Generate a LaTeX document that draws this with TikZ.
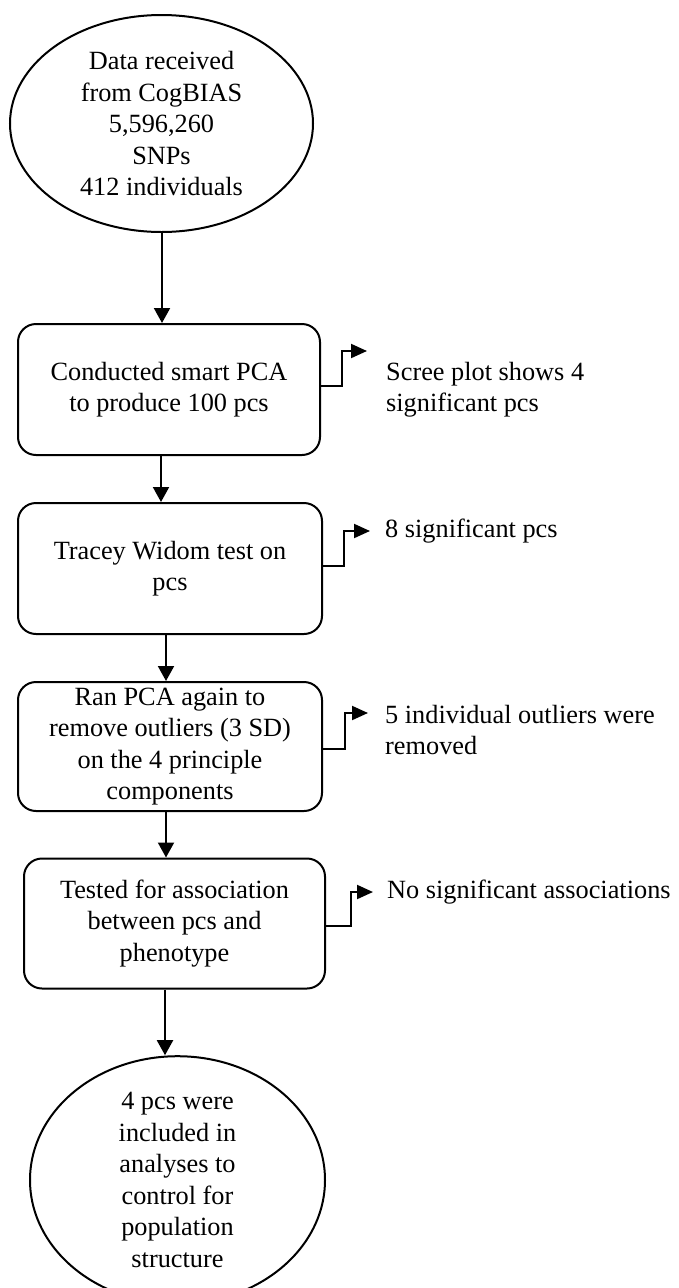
\documentclass[tikz,border=0pt]{standalone}
\usepackage{fontspec}
\setmainfont{Liberation Serif}
\usetikzlibrary{arrows.meta,shapes.geometric}
\begin{document}
\begin{tikzpicture}[x=1pt,y=1pt,
  every node/.style={font=\fontsize{26.3}{31.5}\selectfont},
  ovalnode/.style={draw,line width=2pt,ellipse,inner sep=0pt,align=center},
  stepbox/.style={draw,line width=2pt,rounded corners=18pt,inner sep=0pt,align=center},
  sidetext/.style={anchor=north west,inner sep=0pt,align=left},
  mainarrow/.style={line width=2pt,-{Triangle[length=15pt,width=16pt]}},
  sidearrow/.style={line width=2pt,-{Triangle[length=16pt,width=14pt]}}]
\useasboundingbox (0,0) rectangle (678,-1288);

\node[ovalnode,minimum width=303pt,minimum height=217pt] (e1) at (161.5,-123.5)
  {Data received\\from CogBIAS\\5,596,260\\SNPs\\412 individuals};
\node[stepbox,minimum width=302pt,minimum height=131pt] (b1) at (169,-389.5)
  {Conducted smart PCA\\to produce 100 pcs};
\node[stepbox,minimum width=304pt,minimum height=131pt] (b2) at (170,-568.5)
  {Tracey Widom test on\\pcs};
\node[stepbox,minimum width=304pt,minimum height=129pt] (b3) at (170,-746.5)
  {Ran PCA again to\\remove outliers (3 SD)\\on the 4 principle\\components};
\node[stepbox,minimum width=301pt,minimum height=130pt] (b4) at (174.5,-923.5)
  {Tested for association\\between pcs and\\phenotype};
\node[ovalnode,minimum width=295pt,minimum height=216pt] (e2) at (177.5,-1180)
  {4 pcs were\\included in\\analyses to\\control for\\population\\structure};

\node[sidetext] (t1) at (386,-362) {Scree plot shows 4\\significant pcs};
\node[sidetext] (t2) at (385,-519) {8 significant pcs};
\node[sidetext] (t3) at (385,-705) {5 individual outliers were\\removed};
\node[sidetext] (t4) at (387,-880) {No significant associations};

\coordinate (p1) at (367,-351);
\coordinate (p2) at (370,-531);
\coordinate (p3) at (368,-713);
\coordinate (p4) at (373,-892);

\draw[mainarrow] (e1.south -| 162,0) -- (b1.north -| 162,0);
\draw[mainarrow] (b1.south -| 161,0) -- (b2.north -| 161,0);
\draw[mainarrow] (b2.south -| 166,0) -- (b3.north -| 166,0);
\draw[mainarrow] (b3.south -| 166,0) -- (b4.north -| 166,0);
\draw[mainarrow] (b4.south -| 165,0) -- (e2.north -| 165,0);

\draw[sidearrow] (b1.east |- 0,-386) -- (342,-386) |- (p1);
\draw[sidearrow] (b2.east |- 0,-566) -- (344,-566) |- (p2);
\draw[sidearrow] (b3.east |- 0,-749) -- (345,-749) |- (p3);
\draw[sidearrow] (b4.east |- 0,-926) -- (351,-926) |- (p4);
\end{tikzpicture}
\end{document}
